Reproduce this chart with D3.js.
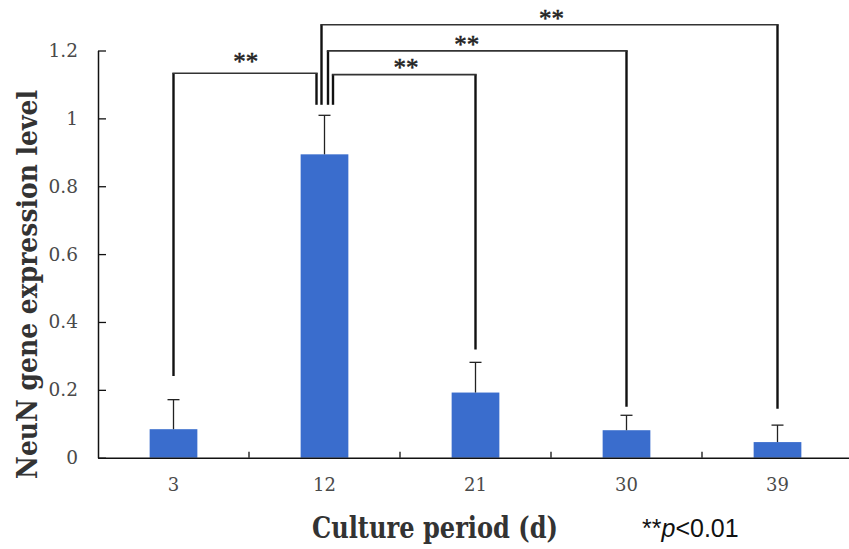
<!DOCTYPE html>
<html>
<head>
<meta charset="utf-8">
<script src="https://cdn.jsdelivr.net/npm/d3@7"></script>
<style>
html,body{margin:0;padding:0;background:#fff;}
svg{display:block;}
</style>
</head>
<body>
<svg id="chart" width="849" height="549"></svg>
<script>
// ---- data ----
const categories = ["3", "12", "21", "30", "39"];
const means      = [0.084, 0.894, 0.192, 0.081, 0.046];
const errUpper   = [0.171, 1.009, 0.281, 0.125, 0.096];
const yTickValues = [0, 0.2, 0.4, 0.6, 0.8, 1, 1.2];
const yTickLabels = ["0", "0.2", "0.4", "0.6", "0.8", "1", "1.2"];
// significance brackets (values in data units)
const bracketFrom  = ["3", "12", "12", "12"];
const bracketTo    = ["12", "39", "30", "21"];
const bracketLevel = [1.133, 1.276, 1.199, 1.129];
const bracketFromEnd = [0.241, 1.040, 1.040, 1.040];
const bracketToEnd   = [1.040, 0.144, 0.150, 0.319];
const bracketLabel = ["**", "**", "**", "**"];
const xTitle = "Culture period (d)";
const yTitle = "NeuN gene expression level";

// ---- drawing ----
const svg = d3.select("#chart");
const x = d3.scaleBand().domain(categories).range([98, 853])
  .paddingInner(0.684).paddingOuter(0.342);
const y = d3.scaleLinear().domain([0, 1.2]).range([457.7, 50.5]);
const blue = "#3a6dcd";

// bars
svg.append("g").selectAll("rect").data(categories).join("rect")
  .attr("x", d => x(d))
  .attr("y", (d, i) => y(means[i]))
  .attr("width", x.bandwidth())
  .attr("height", (d, i) => y(0) - y(means[i]))
  .attr("fill", blue);

// error bars
const eg = svg.append("g").attr("stroke", "#222").attr("stroke-width", 1.3);
categories.forEach((c, i) => {
  const cx = x(c) + x.bandwidth() / 2;
  eg.append("line").attr("x1", cx).attr("x2", cx).attr("y1", y(means[i])).attr("y2", y(errUpper[i]));
  eg.append("line").attr("x1", cx - 6).attr("x2", cx + 6).attr("y1", y(errUpper[i])).attr("y2", y(errUpper[i]));
});

// y axis
const yAxis = d3.axisLeft(y).tickValues(yTickValues)
  .tickFormat((d, i) => yTickLabels[i])
  .tickSizeInner(-8).tickSizeOuter(0).tickPadding(20);
const yg = svg.append("g").attr("transform", "translate(98,0)").call(yAxis);
yg.select(".domain").attr("stroke", "#111").attr("stroke-width", 1.5);
yg.selectAll(".tick line").attr("stroke", "#111").attr("stroke-width", 1.3);
yg.selectAll(".tick text").attr("font-family", "'DejaVu Serif', serif")
  .attr("font-size", 18.5).attr("fill", "#4a4a4a");

// x axis
const xAxis = d3.axisBottom(x).tickSizeInner(0).tickSizeOuter(0).tickPadding(21);
const xg = svg.append("g").attr("transform", "translate(0,457.7)").call(xAxis);
xg.select(".domain").attr("stroke", "#111").attr("stroke-width", 1.5);
xg.selectAll(".tick text").attr("font-family", "'DejaVu Serif', serif")
  .attr("font-size", 18).attr("fill", "#4a4a4a");
// separator ticks between categories
const step = x.step();
svg.append("g").selectAll("line").data(categories.slice(0, -1)).join("line")
  .attr("x1", d => x(d) + x.bandwidth() / 2 + step / 2)
  .attr("x2", d => x(d) + x.bandwidth() / 2 + step / 2)
  .attr("y1", y(0)).attr("y2", y(0) - 6)
  .attr("stroke", "#111").attr("stroke-width", 1.3);

// brackets
const offs = [-8, -3, 3.5, 8.5];      // horizontal nudges at the "12" end
const labelDx = [0.7, 2, -10.5, 1.7];
const labelRise = [16, 10, 10, 11];   // label centre above bracket line (px)
const bg = svg.append("g").attr("fill", "none").attr("stroke", "#111");
bracketFrom.forEach((f, i) => {
  const cf = x(f) + x.bandwidth() / 2 + (f === "12" ? offs[i] : 0);
  const ct = x(bracketTo[i]) + x.bandwidth() / 2 + (bracketTo[i] === "12" ? offs[i] : 0);
  const yl = y(bracketLevel[i]);
  bg.append("line").attr("x1", cf).attr("x2", cf).attr("y1", y(bracketFromEnd[i])).attr("y2", yl).attr("stroke-width", 2.4);
  bg.append("line").attr("x1", ct).attr("x2", ct).attr("y1", y(bracketToEnd[i])).attr("y2", yl).attr("stroke-width", 2.4);
  bg.append("line").attr("x1", cf - 1.2).attr("x2", ct + 1.2).attr("y1", yl).attr("y2", yl).attr("stroke-width", 1.6).attr("stroke", "#333");
  svg.append("text").attr("x", (cf + ct) / 2 + labelDx[i]).attr("y", yl - labelRise[i] + 12.5)
    .attr("text-anchor", "middle").attr("font-family", "'Liberation Serif', serif")
    .attr("font-size", 25).attr("fill", "#222").attr("stroke", "#222").attr("stroke-width", 0.5)
    .text(bracketLabel[i]);
});

// titles
svg.append("text").attr("x", 312).attr("y", 538)
  .attr("font-family", "'DejaVu Serif', serif").attr("font-weight", "bold")
  .attr("font-size", 30).attr("fill", "#333")
  .attr("textLength", 246).attr("lengthAdjust", "spacingAndGlyphs")
  .text(xTitle);

svg.append("text").attr("transform", "translate(36.5,479) rotate(-90)")
  .attr("font-family", "'DejaVu Serif', serif").attr("font-weight", "bold")
  .attr("font-size", 28).attr("fill", "#333")
  .attr("textLength", 389).attr("lengthAdjust", "spacingAndGlyphs")
  .text(yTitle);

const pt = svg.append("text").attr("x", 642).attr("y", 537)
  .attr("font-family", "'Liberation Sans', sans-serif").attr("font-size", 25).attr("fill", "#111");
pt.append("tspan").text("**");
pt.append("tspan").attr("font-style", "italic").text("p");
pt.append("tspan").text("<0.01");
</script>
</body>
</html>
